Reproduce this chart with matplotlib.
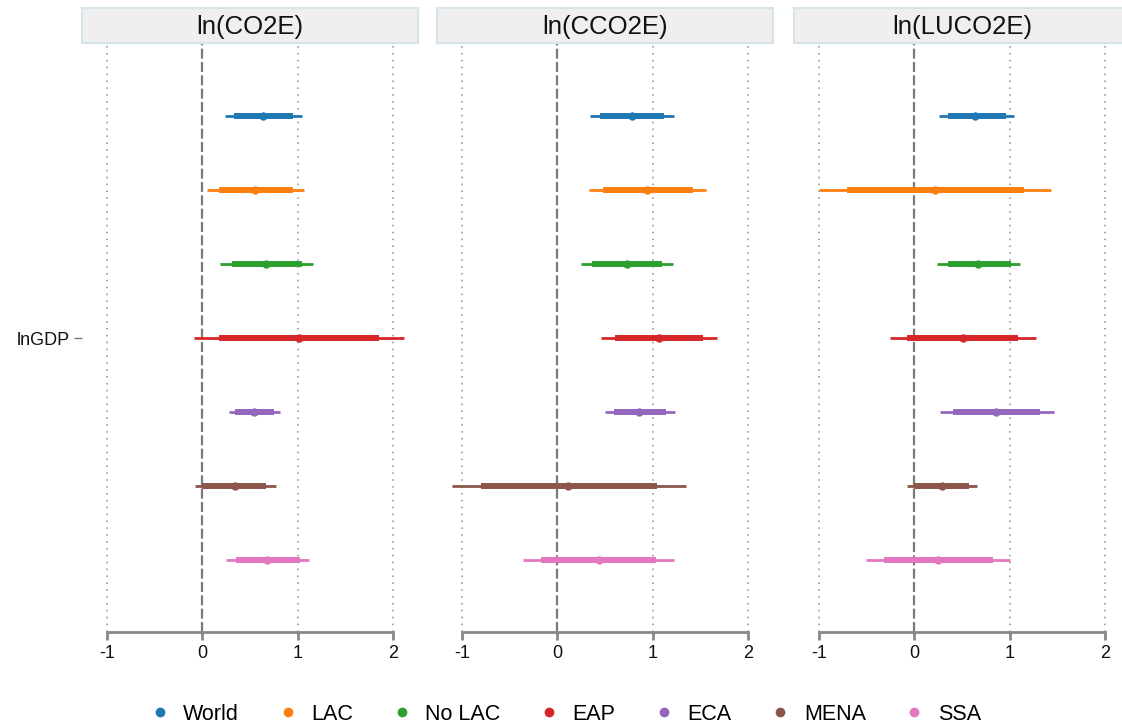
import matplotlib
matplotlib.use("Agg")
import matplotlib.pyplot as plt
from matplotlib.lines import Line2D

plt.rcParams.update({"font.family": ["Liberation Sans", "DejaVu Sans"]})

# ---- data ----
regions = ["World", "LAC", "No LAC", "EAP", "ECA", "MENA", "SSA"]
colors = ["#1f77b4", "#ff7f0e", "#2ca02c", "#d62728", "#9467bd", "#8c564b", "#e377c2"]
outcomes = ["ln(CO2E)", "ln(CCO2E)", "ln(LUCO2E)"]
xticks = [-1, 0, 1, 2]

# point estimates, per outcome, in region order
est = {
    "ln(CO2E)":   [0.64, 0.55, 0.67, 1.01, 0.54, 0.34, 0.68],
    "ln(CCO2E)":  [0.78, 0.94, 0.73, 1.07, 0.86, 0.11, 0.44],
    "ln(LUCO2E)": [0.64, 0.22, 0.67, 0.51, 0.86, 0.29, 0.25],
}
# inner (thick) interval
lo_in = {
    "ln(CO2E)":   [0.33, 0.17, 0.31, 0.17, 0.34, 0.00, 0.35],
    "ln(CCO2E)":  [0.45, 0.48, 0.36, 0.61, 0.59, -0.80, -0.17],
    "ln(LUCO2E)": [0.35, -0.71, 0.35, -0.08, 0.41, 0.00, -0.32],
}
hi_in = {
    "ln(CO2E)":   [0.95, 0.95, 1.05, 1.85, 0.75, 0.67, 1.02],
    "ln(CCO2E)":  [1.12, 1.42, 1.10, 1.53, 1.14, 1.05, 1.04],
    "ln(LUCO2E)": [0.96, 1.15, 1.01, 1.09, 1.32, 0.57, 0.82],
}
# outer (thin) interval
lo_out = {
    "ln(CO2E)":   [0.24, 0.05, 0.19, -0.09, 0.28, -0.08, 0.25],
    "ln(CCO2E)":  [0.34, 0.33, 0.25, 0.46, 0.50, -1.10, -0.36],
    "ln(LUCO2E)": [0.26, -1.00, 0.24, -0.26, 0.27, -0.08, -0.51],
}
hi_out = {
    "ln(CO2E)":   [1.05, 1.07, 1.16, 2.12, 0.81, 0.77, 1.12],
    "ln(CCO2E)":  [1.22, 1.56, 1.21, 1.67, 1.23, 1.35, 1.22],
    "ln(LUCO2E)": [1.05, 1.43, 1.11, 1.28, 1.46, 0.66, 1.00],
}

W, H = 1122, 727
fig = plt.figure(figsize=(W / 100, H / 100), dpi=100)

panel_left = [82, 437, 794]
panel_w = 336
top, bottom = 43, 632
ypos = list(range(len(regions) - 1, -1, -1))

for k, oc in enumerate(outcomes):
    x0 = panel_left[k]
    ax = fig.add_axes([x0 / W, 1 - bottom / H, panel_w / W, (bottom - top) / H])
    ax.set_xlim(-1.262, 2.262)
    ax.set_ylim(-0.97, 6.99)

    for t in xticks:
        if t == 0:
            ax.axvline(0, color="#7a7a7a", lw=1.6, ls=(0, (4.5, 1.5)), zorder=1)
        else:
            ax.axvline(t, color="#8c8c8c", lw=1.1, ls=(0, (1, 3.5)), zorder=1)

    for i, r in enumerate(regions):
        y = ypos[i]
        ax.plot([lo_out[oc][i], hi_out[oc][i]], [y, y], color=colors[i], lw=2.0,
                solid_capstyle="butt", zorder=2)
        ax.plot([lo_in[oc][i], hi_in[oc][i]], [y, y], color=colors[i], lw=4.3,
                solid_capstyle="butt", zorder=3)
        ax.plot(est[oc][i], y, "o", color=colors[i], ms=5, zorder=4)

    for s in ["top", "right", "left"]:
        ax.spines[s].set_visible(False)
    ax.spines["bottom"].set_bounds(-1, 2)
    ax.spines["bottom"].set_color("#888888")
    ax.spines["bottom"].set_linewidth(2)
    ax.set_xticks(xticks)
    ax.set_xticklabels([str(t) for t in xticks])
    ax.tick_params(axis="x", length=6, width=2, color="#888888", labelsize=13,
                   labelcolor="#111111", pad=3)
    if k == 0:
        ax.set_yticks([3])
        ax.set_yticklabels(["lnGDP"])
        ax.tick_params(axis="y", length=6, width=1, color="#777777", labelsize=13,
                       labelcolor="#111111", pad=3)
    else:
        ax.set_yticks([])
    ax.set_facecolor("none")

    # facet strip
    sax = fig.add_axes([x0 / W, 1 - 43 / H, panel_w / W, 35 / H])
    sax.set_facecolor("#efefef")
    sax.set_xticks([])
    sax.set_yticks([])
    for s in sax.spines.values():
        s.set_color("#d6e4ee")
        s.set_linewidth(1.5)
    sax.text(0.5, 0.45, oc, ha="center", va="center", fontsize=18.5, color="#111111",
             transform=sax.transAxes)

handles = [Line2D([], [], marker="o", ls="none", color=c, ms=6) for c in colors]
fig.legend(handles, regions, loc="center", bbox_to_anchor=(565 / W, 13 / H), ncol=7,
           frameon=False, fontsize=15.5, handlelength=1.0, handletextpad=0.6,
           columnspacing=1.75)

fig.savefig("out.png", dpi=100)
